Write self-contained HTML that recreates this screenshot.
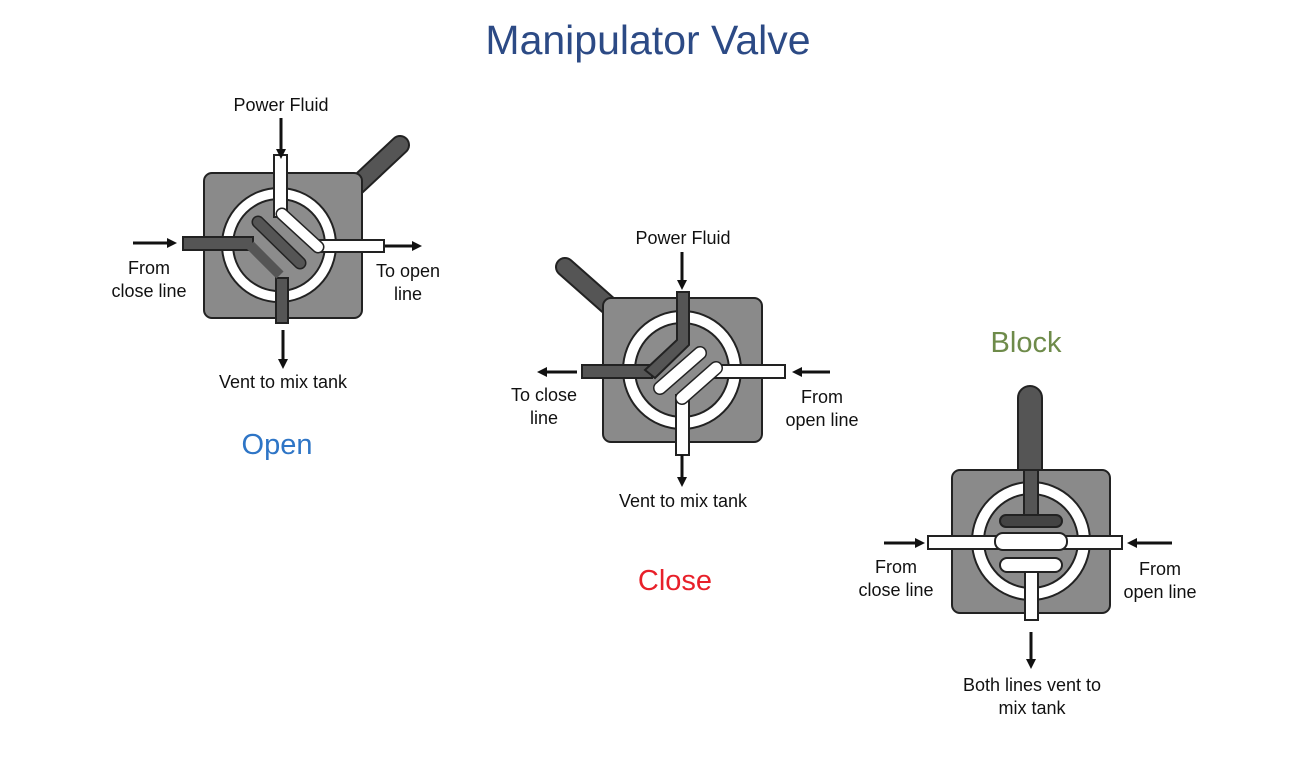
<!DOCTYPE html>
<html><head><meta charset="utf-8"><style>
body{margin:0;background:#fff;}
svg{display:block;font-family:"Liberation Sans",sans-serif;}
</style></head><body>
<svg width="1312" height="778" viewBox="0 0 1312 778">
<defs>
<marker id="ah" markerWidth="10" markerHeight="10" refX="7" refY="5" orient="auto" markerUnits="userSpaceOnUse"><path d="M0,0 L10,5 L0,10 z" fill="#111"/></marker>
</defs>
<text x="648" y="54" font-size="41" fill="#2c4a85" text-anchor="middle">Manipulator Valve</text>

<!-- OPEN -->
<g stroke="#222" stroke-width="2">
<line x1="352" y1="190" x2="400" y2="145" stroke="#222" stroke-width="20" stroke-linecap="round"/>
<line x1="352" y1="190" x2="400" y2="145" stroke="#555" stroke-width="16" stroke-linecap="round"/>
<rect x="204" y="173" width="158" height="145" rx="8" fill="#8a8a8a"/>
<circle cx="279" cy="245" r="57" fill="#fff"/>
<circle cx="279" cy="245" r="46" fill="#8c8c8c"/>
<rect x="274" y="155" width="13" height="62" fill="#fff"/>
<rect x="183" y="237" width="70" height="13" fill="#555"/>
<rect x="320" y="240" width="64" height="12" fill="#fff"/>
<rect x="276" y="278" width="12" height="45" fill="#555"/>
<line x1="258" y1="222" x2="300" y2="263" stroke="#222" stroke-width="13" stroke-linecap="round"/>
<line x1="258" y1="222" x2="300" y2="263" stroke="#555" stroke-width="10" stroke-linecap="round"/>
<line x1="282" y1="214" x2="318" y2="247" stroke="#222" stroke-width="13" stroke-linecap="round"/>
<line x1="282" y1="214" x2="318" y2="247" stroke="#fff" stroke-width="10" stroke-linecap="round"/>
<line x1="250" y1="245" x2="280" y2="275" stroke="#555" stroke-width="10"/>
</g>
<g stroke="#111" stroke-width="3" marker-end="url(#ah)">
<line x1="281" y1="118" x2="281" y2="156"/>
<line x1="133" y1="243" x2="174" y2="243"/>
<line x1="385" y1="246" x2="419" y2="246"/>
<line x1="283" y1="330" x2="283" y2="366"/>
</g>
<g font-size="18" fill="#111" text-anchor="middle">
<text x="281" y="111">Power Fluid</text>
<text x="149" y="274">From</text><text x="149" y="297">close line</text>
<text x="408" y="277">To open</text><text x="408" y="300">line</text>
<text x="283" y="388">Vent to mix tank</text>
</g>
<text x="277" y="454" font-size="29" fill="#2e75c6" text-anchor="middle">Open</text>

<!-- CLOSE -->
<g stroke="#222" stroke-width="2">
<line x1="608" y1="305" x2="565" y2="267" stroke="#222" stroke-width="20" stroke-linecap="round"/>
<line x1="608" y1="305" x2="565" y2="267" stroke="#555" stroke-width="16" stroke-linecap="round"/>
<rect x="603" y="298" width="159" height="144" rx="8" fill="#8a8a8a"/>
<circle cx="682" cy="370" r="59" fill="#fff"/>
<circle cx="682" cy="370" r="47" fill="#8c8c8c"/>
<rect x="582" y="365" width="70" height="13" fill="#555"/>
<rect x="715" y="365" width="70" height="13" fill="#fff"/>
<rect x="676" y="395" width="13" height="60" fill="#fff"/>
<path d="M677,292 L689,292 L689,345 L655,378 L645,370 L677,340 z" fill="#555"/>
<line x1="660" y1="388" x2="700" y2="353" stroke="#222" stroke-width="14" stroke-linecap="round"/>
<line x1="660" y1="388" x2="700" y2="353" stroke="#fff" stroke-width="11" stroke-linecap="round"/>
<line x1="682" y1="398" x2="716" y2="368" stroke="#222" stroke-width="14" stroke-linecap="round"/>
<line x1="682" y1="398" x2="716" y2="368" stroke="#fff" stroke-width="11" stroke-linecap="round"/>
</g>
<g stroke="#111" stroke-width="3" marker-end="url(#ah)">
<line x1="682" y1="252" x2="682" y2="287"/>
<line x1="577" y1="372" x2="540" y2="372"/>
<line x1="830" y1="372" x2="795" y2="372"/>
<line x1="682" y1="455" x2="682" y2="484"/>
</g>
<g font-size="18" fill="#111" text-anchor="middle">
<text x="683" y="244">Power Fluid</text>
<text x="544" y="401">To close</text><text x="544" y="424">line</text>
<text x="822" y="403">From</text><text x="822" y="426">open line</text>
<text x="683" y="507">Vent to mix tank</text>
</g>
<text x="675" y="590" font-size="29" fill="#e8202a" text-anchor="middle">Close</text>

<!-- BLOCK -->
<text x="1026" y="352" font-size="29" fill="#6e8b4a" text-anchor="middle">Block</text>
<g stroke="#222" stroke-width="2">
<rect x="1018" y="386" width="24" height="100" rx="12" fill="#555"/>
<rect x="952" y="470" width="158" height="143" rx="8" fill="#8a8a8a"/>
<circle cx="1031" cy="541" r="59" fill="#fff"/>
<circle cx="1031" cy="541" r="47" fill="#8c8c8c"/>
<rect x="1024" y="470" width="14" height="50" fill="#555"/>
<rect x="1000" y="515" width="62" height="12" rx="6" fill="#444"/>
<rect x="928" y="536" width="194" height="13" fill="#fff"/>
<rect x="995" y="533" width="72" height="17" rx="8" fill="#fff"/>
<rect x="1025" y="562" width="13" height="58" fill="#fff"/>
<rect x="1000" y="558" width="62" height="14" rx="7" fill="#fff"/>
</g>
<g stroke="#111" stroke-width="3" marker-end="url(#ah)">
<line x1="884" y1="543" x2="922" y2="543"/>
<line x1="1172" y1="543" x2="1130" y2="543"/>
<line x1="1031" y1="632" x2="1031" y2="666"/>
</g>
<g font-size="18" fill="#111" text-anchor="middle">
<text x="896" y="573">From</text><text x="896" y="596">close line</text>
<text x="1160" y="575">From</text><text x="1160" y="598">open line</text>
<text x="1032" y="691">Both lines vent to</text><text x="1032" y="714">mix tank</text>
</g>
</svg>
</body></html>
